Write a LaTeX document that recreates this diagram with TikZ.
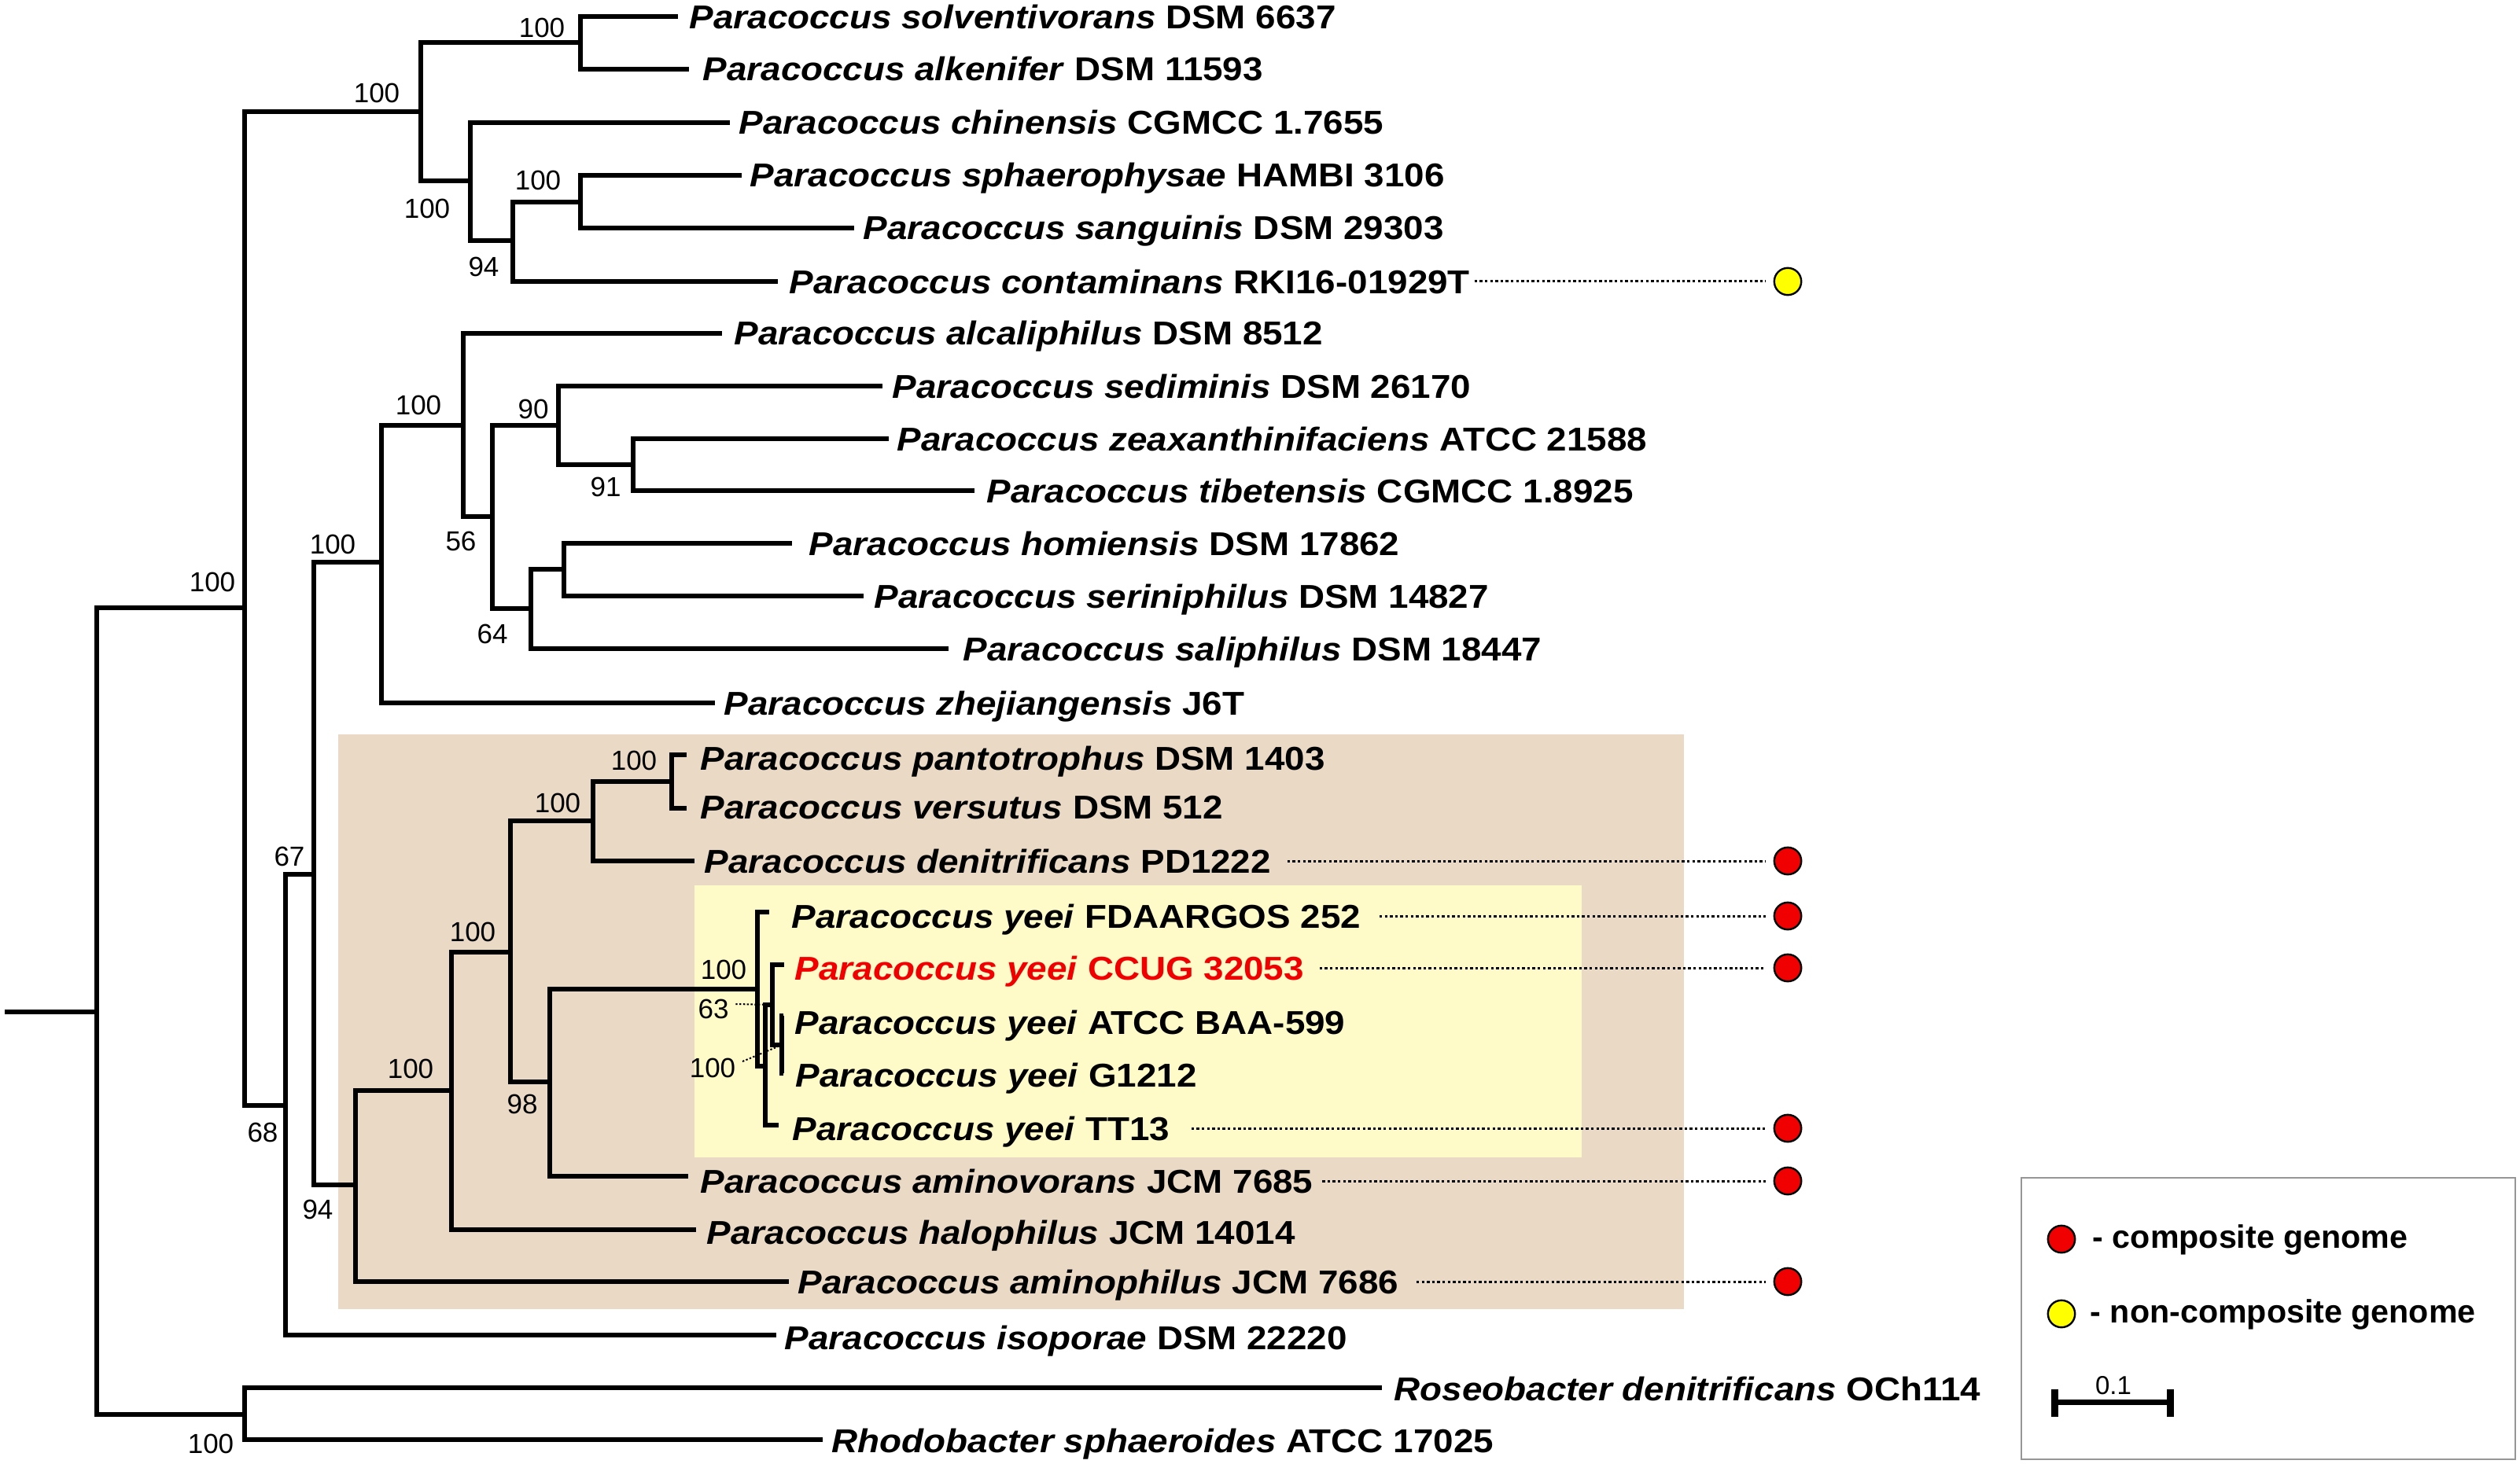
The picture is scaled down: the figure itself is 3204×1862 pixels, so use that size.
\documentclass[tikz,border=0pt]{standalone}
\usepackage{fontspec}
\setmainfont{Liberation Sans}
\newfontfamily\treefont{Liberation Sans}[FakeStretch=1.09]
\definecolor{clbrown}{RGB}{234,217,197}
\definecolor{clyellow}{RGB}{255,251,200}
\definecolor{dotred}{RGB}{240,0,0}
\definecolor{dotyellow}{RGB}{255,255,0}
\definecolor{legendgray}{RGB}{150,150,150}
\tikzset{
  branch/.style={line width=1.6pt},
  leaf/.style={anchor=base west, inner sep=0pt, font=\treefont\fontsize{10.5pt}{12pt}\selectfont\bfseries},
  boot/.style={inner sep=0pt, font=\fontsize{8.75pt}{10pt}\selectfont},
  dotline/.style={line width=0.75pt, dash pattern=on 0.85pt off 0.8pt},
  leader/.style={line width=0.5pt, dash pattern=on 0.6pt off 0.6pt},
  reddot/.style={circle, draw=black, line width=0.6pt, fill=dotred, minimum size=8.6pt, inner sep=0pt},
  yeldot/.style={circle, draw=black, line width=0.6pt, fill=dotyellow, minimum size=8.6pt, inner sep=0pt},
  legtext/.style={anchor=base west, inner sep=0pt, font=\fontsize{10.3pt}{12pt}\selectfont\bfseries},
}
\begin{document}
\begin{tikzpicture}[x=0.25pt,y=-0.25pt]
\useasboundingbox (0,0) rectangle (3204,1862);
% background boxes
\fill[clbrown] (430,934) rectangle (2141,1665);
\fill[clyellow] (883,1126) rectangle (2011,1472);
% internal nodes
\coordinate (R0) at (6,1287);
\coordinate (R) at (123,1287);
\coordinate (F) at (311,773);
\coordinate (S) at (311,1799);
\coordinate (B) at (535,142);
\coordinate (A) at (738,54);
\coordinate (C) at (598,230);
\coordinate (D) at (652,306);
\coordinate (E) at (738,257);
\coordinate (H) at (363,1406);
\coordinate (I) at (399,1112);
\coordinate (J) at (485,715);
\coordinate (L) at (589,541);
\coordinate (M) at (626,657);
\coordinate (N) at (710,541);
\coordinate (P) at (805,591);
\coordinate (O) at (675,774);
\coordinate (Q) at (717,724);
\coordinate (K) at (452,1507);
\coordinate (T) at (574,1387);
\coordinate (U) at (649,1211);
\coordinate (V) at (754,1044);
\coordinate (X) at (854,994);
\coordinate (W) at (699,1376);
\coordinate (Y) at (963,1258);
\coordinate (Z1) at (973,1356);
\coordinate (Z2) at (982,1278);
\coordinate (Z3) at (994,1329);
% leaf tips
\coordinate (l1) at (862,21);
\coordinate (l2) at (876,88);
\coordinate (l3) at (928,156);
\coordinate (l4) at (943,223);
\coordinate (l5) at (1086,290);
\coordinate (l6) at (989,358);
\coordinate (l7) at (918,424);
\coordinate (l8) at (1122,491);
\coordinate (l9) at (1130,558);
\coordinate (l10) at (1239,624);
\coordinate (l11) at (1007,691);
\coordinate (l12) at (1098,758);
\coordinate (l13) at (1206,825);
\coordinate (l14) at (909,894);
\coordinate (l15) at (873,960);
\coordinate (l16) at (873,1028);
\coordinate (l17) at (883,1095);
\coordinate (l18) at (978,1160);
\coordinate (l19) at (997,1227);
\coordinate (l20) at (996,1292);
\coordinate (l21) at (996,1365);
\coordinate (l22) at (990,1431);
\coordinate (l23) at (875,1496);
\coordinate (l24) at (885,1564);
\coordinate (l25) at (1003,1630);
\coordinate (l26) at (987,1698);
\coordinate (l27) at (1757,1765);
\coordinate (l28) at (1046,1831);
% branches
\draw[branch] (R0) -- (R);
\draw[branch] (R) |- (F); \draw[branch] (R) |- (S);
\draw[branch] (F) |- (B); \draw[branch] (F) |- (H);
\draw[branch] (B) |- (A); \draw[branch] (B) |- (C);
\draw[branch] (A) |- (l1); \draw[branch] (A) |- (l2);
\draw[branch] (C) |- (l3); \draw[branch] (C) |- (D);
\draw[branch] (D) |- (E); \draw[branch] (D) |- (l6);
\draw[branch] (E) |- (l4); \draw[branch] (E) |- (l5);
\draw[branch] (H) |- (I); \draw[branch] (H) |- (l26);
\draw[branch] (I) |- (J); \draw[branch] (I) |- (K);
\draw[branch] (J) |- (L); \draw[branch] (J) |- (l14);
\draw[branch] (L) |- (l7); \draw[branch] (L) |- (M);
\draw[branch] (M) |- (N); \draw[branch] (M) |- (O);
\draw[branch] (N) |- (l8); \draw[branch] (N) |- (P);
\draw[branch] (P) |- (l9); \draw[branch] (P) |- (l10);
\draw[branch] (O) |- (Q); \draw[branch] (O) |- (l13);
\draw[branch] (Q) |- (l11); \draw[branch] (Q) |- (l12);
\draw[branch] (K) |- (T); \draw[branch] (K) |- (l25);
\draw[branch] (T) |- (U); \draw[branch] (T) |- (l24);
\draw[branch] (U) |- (V); \draw[branch] (U) |- (W);
\draw[branch] (V) |- (X); \draw[branch] (V) |- (l17);
\draw[branch] (X) |- (l15); \draw[branch] (X) |- (l16);
\draw[branch] (W) |- (Y); \draw[branch] (W) |- (l23);
\draw[branch] (Y) |- (l18); \draw[branch] (Y) |- (Z1);
\draw[branch] (Z1) |- (Z2); \draw[branch] (Z1) |- (l22);
\draw[branch] (Z2) |- (l19); \draw[branch] (Z2) |- (Z3);
\draw[branch] (Z3) |- (l20); \draw[branch] (Z3) |- (l21);
\draw[branch] (S) |- (l27); \draw[branch] (S) |- (l28);
% bootstrap values
\node[boot] (bA) at (689,35) {100};
\node[boot] (bB) at (479,118) {100};
\node[boot] (bC) at (543,265) {100};
\node[boot] (bD) at (615,339) {94};
\node[boot] (bE) at (684,229) {100};
\node[boot] (bF) at (270,740) {100};
\node[boot] (bS) at (268,1836) {100};
\node[boot] (bH) at (334,1440) {68};
\node[boot] (bI) at (368,1089) {67};
\node[boot] (bJ) at (423,692) {100};
\node[boot] (bL) at (532,515) {100};
\node[boot] (bM) at (586,688) {56};
\node[boot] (bN) at (678,520) {90};
\node[boot] (bP) at (770,619) {91};
\node[boot] (bO) at (626,806) {64};
\node[boot] (bK) at (404,1538) {94};
\node[boot] (bT) at (522,1359) {100};
\node[boot] (bU) at (601,1185) {100};
\node[boot] (bV) at (709,1021) {100};
\node[boot] (bX) at (806,967) {100};
\node[boot] (bW) at (664,1404) {98};
\node[boot] (bY) at (920,1233) {100};
\node[boot] (bZ2) at (907,1283) {63};
\node[boot] (bZ1) at (906,1358) {100};
\draw[leader] (bZ2.east) ++(8,-6) -- (Z2);
\draw[leader] (bZ1.east) ++(8,-8) -- (Z3);
% leaf labels
\node[leaf] (t1) at (876,37) {\textit{Paracoccus solventivorans} DSM 6637};
\node[leaf] (t2) at (893,103) {\textit{Paracoccus alkenifer} DSM 11593};
\node[leaf] (t3) at (939,171) {\textit{Paracoccus chinensis} CGMCC 1.7655};
\node[leaf] (t4) at (953,238) {\textit{Paracoccus sphaerophysae} HAMBI 3106};
\node[leaf] (t5) at (1097,305) {\textit{Paracoccus sanguinis} DSM 29303};
\node[leaf] (t6) at (1003,373) {\textit{Paracoccus contaminans} RKI16-01929T};
\node[leaf] (t7) at (933,439) {\textit{Paracoccus alcaliphilus} DSM 8512};
\node[leaf] (t8) at (1134,506) {\textit{Paracoccus sediminis} DSM 26170};
\node[leaf] (t9) at (1140,573) {\textit{Paracoccus zeaxanthinifaciens} ATCC 21588};
\node[leaf] (t10) at (1254,639) {\textit{Paracoccus tibetensis} CGMCC 1.8925};
\node[leaf] (t11) at (1028,706) {\textit{Paracoccus homiensis} DSM 17862};
\node[leaf] (t12) at (1111,773) {\textit{Paracoccus seriniphilus} DSM 14827};
\node[leaf] (t13) at (1224,840) {\textit{Paracoccus saliphilus} DSM 18447};
\node[leaf] (t14) at (920,909) {\textit{Paracoccus zhejiangensis} J6T};
\node[leaf] (t15) at (890,979) {\textit{Paracoccus pantotrophus} DSM 1403};
\node[leaf] (t16) at (890,1041) {\textit{Paracoccus versutus} DSM 512};
\node[leaf] (t17) at (895,1110) {\textit{Paracoccus denitrificans} PD1222};
\node[leaf] (t18) at (1006,1180) {\textit{Paracoccus yeei} FDAARGOS 252};
\node[leaf, text=dotred] (t19) at (1010,1246) {\textit{Paracoccus yeei} CCUG 32053};
\node[leaf] (t20) at (1010,1315) {\textit{Paracoccus yeei} ATCC BAA-599};
\node[leaf] (t21) at (1011,1382) {\textit{Paracoccus yeei} G1212};
\node[leaf] (t22) at (1007,1450) {\textit{Paracoccus yeei} TT13};
\node[leaf] (t23) at (890,1517) {\textit{Paracoccus aminovorans} JCM 7685};
\node[leaf] (t24) at (898,1582) {\textit{Paracoccus halophilus} JCM 14014};
\node[leaf] (t25) at (1014,1645) {\textit{Paracoccus aminophilus} JCM 7686};
\node[leaf] (t26) at (997,1716) {\textit{Paracoccus isoporae} DSM 22220};
\node[leaf] (t27) at (1772,1781) {\textit{Roseobacter denitrificans} OCh114};
\node[leaf] (t28) at (1057,1847) {\textit{Rhodobacter sphaeroides} ATCC 17025};
% genome markers
\node[yeldot] (c6) at (2273,358) {};
\node[reddot] (c17) at (2273,1095) {};
\node[reddot] (c18) at (2273,1165) {};
\node[reddot] (c19) at (2273,1231) {};
\node[reddot] (c22) at (2273,1435) {};
\node[reddot] (c23) at (2273,1502) {};
\node[reddot] (c25) at (2273,1630) {};
\draw[dotline] (c6.west -| t6.east) ++(5,0) -- ([xshift=-2.5pt]c6.west);
\draw[dotline] (c17.west -| t17.east) ++(20,0) -- ([xshift=-2.5pt]c17.west);
\draw[dotline] (c18.west -| t18.east) ++(23,0) -- ([xshift=-2.5pt]c18.west);
\draw[dotline] (c19.west -| t19.east) ++(19,0) -- ([xshift=-2.5pt]c19.west);
\draw[dotline] (c22.west -| t22.east) ++(27,0) -- ([xshift=-2.5pt]c22.west);
\draw[dotline] (c23.west -| t23.east) ++(11,0) -- ([xshift=-2.5pt]c23.west);
\draw[dotline] (c25.west -| t25.east) ++(22,0) -- ([xshift=-2.5pt]c25.west);
% legend
\node[draw=legendgray, line width=0.5pt, minimum width=157pt, minimum height=89.5pt, inner sep=0pt] (legend) at (2884,1677) {};
\node[reddot] (lr) at (2621,1576) {};
\node[yeldot] (ly) at (2621,1671) {};
\node[legtext] (lrt) at (2660,1587) {- composite genome};
\node[legtext] (lyt) at (2657,1682) {- non-composite genome};
\coordinate (sb1) at (2612,1783);
\coordinate (sb2) at (2759,1783);
\draw[line width=1.75pt] (sb1) -- (sb2);
\draw[line width=2.25pt] (2612,1767) -- (2612,1802);
\draw[line width=2.25pt] (2759,1767) -- (2759,1802);
\node[boot, font=\fontsize{8.25pt}{10pt}\selectfont] (sbl) at (2687,1762) {0.1};
\end{tikzpicture}
\end{document}
